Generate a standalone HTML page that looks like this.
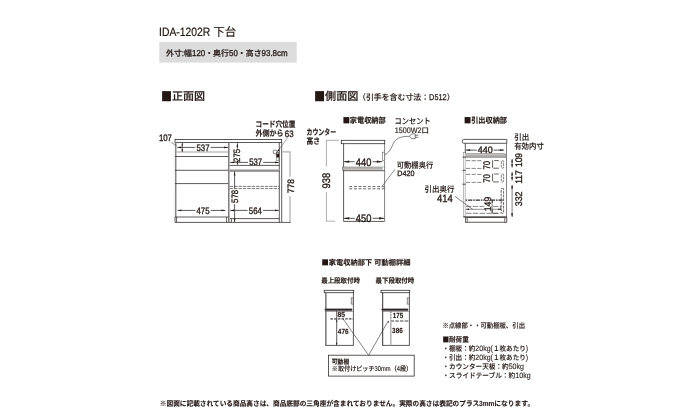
<!DOCTYPE html>
<html lang="ja">
<head>
<meta charset="utf-8">
<title>IDA-1202R 下台</title>
<style>
html,body{margin:0;padding:0;background:#fff;}
body{width:680px;height:420px;overflow:hidden;}
svg{display:block;font-family:"Liberation Sans","Noto Sans CJK JP",sans-serif;fill:#231815;text-rendering:geometricPrecision;will-change:transform;}
svg text{font-family:"Liberation Sans","Noto Sans CJK JP",sans-serif;}
svg .sq{font-family:"Noto Sans CJK JP",sans-serif;}
</style>
</head>
<body>
<svg width="680" height="420" viewBox="0 0 680 420">
<rect x="0" y="0" width="680" height="420" fill="#ffffff"/>
<text xml:space="preserve"><tspan x="159.10" y="35.5" font-size="12.10" textLength="54.10" lengthAdjust="spacingAndGlyphs" stroke="#231815" stroke-width="0.22">IDA-1202R </tspan><tspan x="213.20" y="35.5" font-size="11.80" textLength="23.00" lengthAdjust="spacingAndGlyphs" stroke="#231815" stroke-width="0.15">下台</tspan></text>
<rect x="159.25" y="42" width="137.5" height="20.6" fill="#dcdcdc"/>
<text font-weight="500"><tspan x="166.00" y="56.3" font-size="7.90" textLength="15.85" lengthAdjust="spacingAndGlyphs" stroke="#231815" stroke-width="0.2">外寸</tspan><tspan x="181.85" y="56.3" font-size="8.69" textLength="2.20" lengthAdjust="spacingAndGlyphs" stroke="#231815" stroke-width="0.3">:</tspan><tspan x="184.05" y="56.3" font-size="7.90" textLength="7.92" lengthAdjust="spacingAndGlyphs" stroke="#231815" stroke-width="0.2">幅</tspan><tspan x="191.98" y="56.3" font-size="8.69" textLength="13.24" lengthAdjust="spacingAndGlyphs" stroke="#231815" stroke-width="0.3">120</tspan><tspan x="205.21" y="56.3" font-size="7.90" textLength="23.77" lengthAdjust="spacingAndGlyphs" stroke="#231815" stroke-width="0.2">・奥行</tspan><tspan x="228.99" y="56.3" font-size="8.69" textLength="8.82" lengthAdjust="spacingAndGlyphs" stroke="#231815" stroke-width="0.3">50</tspan><tspan x="237.81" y="56.3" font-size="7.90" textLength="23.77" lengthAdjust="spacingAndGlyphs" stroke="#231815" stroke-width="0.2">・高さ</tspan><tspan x="261.59" y="56.3" font-size="8.69" textLength="26.01" lengthAdjust="spacingAndGlyphs" stroke="#231815" stroke-width="0.3">93.8cm</tspan></text>
<text font-weight="500"><tspan x="160.90" y="100.9" font-size="12.65" textLength="11.05" lengthAdjust="spacingAndGlyphs" class="sq" stroke="#231815" stroke-width="0.15">■</tspan><tspan x="171.95" y="100.4" font-size="11.10" textLength="33.15" lengthAdjust="spacingAndGlyphs" stroke="#231815" stroke-width="0.15">正面図</tspan></text>
<text font-weight="500"><tspan x="314.00" y="100.9" font-size="12.65" textLength="11.12" lengthAdjust="spacingAndGlyphs" class="sq" stroke="#231815" stroke-width="0.15">■</tspan><tspan x="325.12" y="100.4" font-size="11.10" textLength="33.38" lengthAdjust="spacingAndGlyphs" stroke="#231815" stroke-width="0.15">側面図</tspan></text>
<text font-weight="500"><tspan x="358.00" y="99.7" font-size="7.90" textLength="71.10" lengthAdjust="spacingAndGlyphs" stroke="#231815" stroke-width="0.12">（引手を含む寸法：</tspan><tspan x="429.10" y="99.7" font-size="8.53" textLength="17.54" lengthAdjust="spacingAndGlyphs" stroke="#231815" stroke-width="0.25">D512</tspan><tspan x="446.64" y="99.7" font-size="7.90" textLength="7.90" lengthAdjust="spacingAndGlyphs" stroke="#231815" stroke-width="0.12">）</tspan></text>
<rect x="175" y="139.5" width="106.7" height="3.0" fill="none" stroke="#332f2e" stroke-width="0.8"/>
<line x1="175.7" y1="142.5" x2="175.7" y2="217" stroke="#8a8786" stroke-width="1.6"/>
<line x1="175" y1="217" x2="175" y2="222.4" stroke="#332f2e" stroke-width="0.8"/>
<line x1="228.8" y1="142.5" x2="228.8" y2="222.4" stroke="#7d7a79" stroke-width="1.5"/>
<line x1="176.6" y1="152" x2="228.3" y2="152" stroke="#8a8685" stroke-width="0.8"/>
<line x1="175" y1="156.5" x2="228.3" y2="156.5" stroke="#332f2e" stroke-width="0.8"/>
<line x1="175" y1="170.3" x2="228.3" y2="170.3" stroke="#332f2e" stroke-width="0.8"/>
<line x1="175" y1="183.6" x2="228.3" y2="183.6" stroke="#332f2e" stroke-width="0.8"/>
<line x1="175" y1="217" x2="228.3" y2="217" stroke="#332f2e" stroke-width="0.8"/>
<line x1="175" y1="222.4" x2="281.7" y2="222.4" stroke="#332f2e" stroke-width="0.8"/>
<line x1="176.6" y1="217" x2="176.6" y2="222.4" stroke="#332f2e" stroke-width="0.8"/>
<line x1="226.6" y1="217" x2="226.6" y2="222.4" stroke="#332f2e" stroke-width="0.8"/>
<line x1="279.3" y1="142.5" x2="279.3" y2="222.4" stroke="#332f2e" stroke-width="0.8"/>
<line x1="281.7" y1="142.5" x2="281.7" y2="222.4" stroke="#332f2e" stroke-width="0.8"/>
<line x1="229.7" y1="165.4" x2="279.3" y2="165.4" stroke="#332f2e" stroke-width="0.8"/>
<rect x="229.7" y="169" width="49.6" height="2" fill="#c6c4c3"/>
<line x1="229.7" y1="171.1" x2="279.3" y2="171.1" stroke="#332f2e" stroke-width="0.8"/>
<line x1="229.7" y1="186.4" x2="279.3" y2="186.4" stroke="#332f2e" stroke-width="0.65" stroke-dasharray="3.4 1.0"/>
<line x1="229.7" y1="188.6" x2="279.3" y2="188.6" stroke="#332f2e" stroke-width="0.65" stroke-dasharray="3.4 1.0"/>
<line x1="229.7" y1="218.6" x2="279.3" y2="218.6" stroke="#332f2e" stroke-width="0.8"/>
<line x1="231.4" y1="218.6" x2="231.4" y2="222.4" stroke="#332f2e" stroke-width="0.8"/>
<line x1="177.3" y1="147.4" x2="195.3" y2="147.4" stroke="#332f2e" stroke-width="0.8"/>
<line x1="210.7" y1="147.4" x2="228" y2="147.4" stroke="#332f2e" stroke-width="0.8"/>
<polygon points="177.3,147.4 181.10000000000002,146.6 181.10000000000002,148.20000000000002" fill="#231815"/>
<polygon points="228,147.4 224.2,146.6 224.2,148.20000000000002" fill="#231815"/>
<text x="196.50" y="151.1" font-size="9.30" textLength="13.00" lengthAdjust="spacingAndGlyphs" stroke="#231815" stroke-width="0.34">537</text>
<line x1="182.3" y1="143" x2="182.3" y2="152" stroke="#231815" stroke-width="0.6"/>
<polygon points="182.3,142.8 181.45000000000002,145.60000000000002 183.15,145.60000000000002" fill="#231815"/>
<polygon points="182.3,152 181.45000000000002,149.2 183.15,149.2" fill="#231815"/>
<text x="158.90" y="141.4" font-size="9.30" textLength="13.00" lengthAdjust="spacingAndGlyphs" stroke="#231815" stroke-width="0.34">107</text>
<line x1="171.2" y1="142.6" x2="176.6" y2="145.4" stroke="#332f2e" stroke-width="0.5"/>
<line x1="177.6" y1="210.4" x2="195.3" y2="210.4" stroke="#332f2e" stroke-width="0.8"/>
<line x1="210.7" y1="210.4" x2="225.4" y2="210.4" stroke="#332f2e" stroke-width="0.8"/>
<polygon points="177.6,210.4 181.4,209.6 181.4,211.20000000000002" fill="#231815"/>
<polygon points="225.4,210.4 221.6,209.6 221.6,211.20000000000002" fill="#231815"/>
<text x="196.50" y="213.74800000000002" font-size="9.30" textLength="13.00" lengthAdjust="spacingAndGlyphs" stroke="#231815" stroke-width="0.34">475</text>
<line x1="237.4" y1="143.2" x2="237.4" y2="148.8" stroke="#332f2e" stroke-width="0.8"/>
<line x1="237.4" y1="162.0" x2="237.4" y2="164.8" stroke="#332f2e" stroke-width="0.8"/>
<polygon points="237.4,143.2 236.6,147.0 238.20000000000002,147.0" fill="#231815"/>
<polygon points="237.4,164.8 236.6,161.0 238.20000000000002,161.0" fill="#231815"/>
<g transform="rotate(-90 240.048 155.4)"><text x="233.55" y="155.4" font-size="9.30" textLength="13.00" lengthAdjust="spacingAndGlyphs" stroke="#231815" stroke-width="0.34">275</text></g>
<line x1="230.2" y1="162.4" x2="248.0" y2="162.4" stroke="#332f2e" stroke-width="0.8"/>
<line x1="263.4" y1="162.4" x2="278.8" y2="162.4" stroke="#332f2e" stroke-width="0.8"/>
<polygon points="230.2,162.4 234.0,161.6 234.0,163.20000000000002" fill="#231815"/>
<polygon points="278.8,162.4 275.0,161.6 275.0,163.20000000000002" fill="#231815"/>
<text x="249.20" y="165.35" font-size="9.30" textLength="13.00" lengthAdjust="spacingAndGlyphs" stroke="#231815" stroke-width="0.34">537</text>
<line x1="234.6" y1="171.6" x2="234.6" y2="188.70000000000002" stroke="#332f2e" stroke-width="0.8"/>
<line x1="234.6" y1="204.1" x2="234.6" y2="222.2" stroke="#332f2e" stroke-width="0.8"/>
<polygon points="234.6,171.6 233.79999999999998,175.4 235.4,175.4" fill="#231815"/>
<polygon points="234.6,222.2 233.79999999999998,218.39999999999998 235.4,218.39999999999998" fill="#231815"/>
<g transform="rotate(-90 237.948 196.4)"><text x="231.45" y="196.4" font-size="9.30" textLength="13.00" lengthAdjust="spacingAndGlyphs" stroke="#231815" stroke-width="0.34">578</text></g>
<line x1="230.2" y1="210.4" x2="247.60000000000002" y2="210.4" stroke="#332f2e" stroke-width="0.8"/>
<line x1="263.0" y1="210.4" x2="278.8" y2="210.4" stroke="#332f2e" stroke-width="0.8"/>
<polygon points="230.2,210.4 234.0,209.6 234.0,211.20000000000002" fill="#231815"/>
<polygon points="278.8,210.4 275.0,209.6 275.0,211.20000000000002" fill="#231815"/>
<text x="248.80" y="213.74800000000002" font-size="9.30" textLength="13.00" lengthAdjust="spacingAndGlyphs" stroke="#231815" stroke-width="0.34">564</text>
<path d="M281.9,151.9 H290 V222.4" fill="none" stroke="#b4b1b0" stroke-width="1.3"/>
<line x1="281.7" y1="222.4" x2="290.6" y2="222.4" stroke="#332f2e" stroke-width="0.8"/>
<rect x="286" y="176.6" width="8" height="19.6" fill="#fff"/>
<g transform="rotate(-90 293.548 186.1)"><text x="286.45" y="186.1" font-size="9.30" textLength="14.20" lengthAdjust="spacingAndGlyphs" stroke="#231815" stroke-width="0.34">778</text></g>
<circle cx="275.1" cy="152" r="2" fill="#fff" stroke="#332f2e" stroke-width="0.6"/>
<rect x="276.5" y="152.4" width="2.4" height="8.1" fill="#fff" stroke="#332f2e" stroke-width="0.45"/>
<rect x="276.4" y="153.6" width="2.6" height="3.9" fill="#231815"/>
<line x1="287.3" y1="138.2" x2="277.9" y2="150.9" stroke="#332f2e" stroke-width="0.45"/>
<polygon points="277.2,151.9 278.1,149.3 279.6,150.4" fill="#231815"/>
<text x="255.50" y="126.9" font-size="8.00" textLength="39.80" lengthAdjust="spacingAndGlyphs" stroke="#231815" stroke-width="0.15" font-weight="700">コード穴位置</text>
<text x="255.50" y="135.9" font-size="8.00" textLength="28.00" lengthAdjust="spacingAndGlyphs" stroke="#231815" stroke-width="0.15" font-weight="700">外側から</text>
<text x="284.80" y="136.5" font-size="9.30" textLength="8.80" lengthAdjust="spacingAndGlyphs" stroke="#231815" stroke-width="0.34">63</text>
<text font-weight="700"><tspan x="342.70" y="122.8" font-size="7.60" textLength="7.17" lengthAdjust="spacingAndGlyphs" class="sq" stroke="#231815" stroke-width="0.15">■</tspan><tspan x="349.87" y="122.8" font-size="7.60" textLength="35.83" lengthAdjust="spacingAndGlyphs" stroke="#231815" stroke-width="0.15">家電収納部</tspan></text>
<text x="306.50" y="134.5" font-size="8.20" textLength="29.60" lengthAdjust="spacingAndGlyphs" stroke="#231815" stroke-width="0.15" font-weight="700">カウンター</text>
<text x="306.50" y="144.1" font-size="8.00" textLength="13.40" lengthAdjust="spacingAndGlyphs" stroke="#231815" stroke-width="0.15" font-weight="700">高さ</text>
<rect x="341.3" y="140.3" width="43.4" height="3.4" fill="none" stroke="#332f2e" stroke-width="0.8"/>
<line x1="343.6" y1="143.7" x2="343.6" y2="221.4" stroke="#332f2e" stroke-width="0.8"/>
<line x1="384.6" y1="143.7" x2="384.6" y2="221.4" stroke="#332f2e" stroke-width="0.6"/>
<line x1="343.6" y1="221.4" x2="384.6" y2="221.4" stroke="#332f2e" stroke-width="0.8"/>
<rect x="382.3" y="152.1" width="2.3" height="8.6" fill="#fff" stroke="#332f2e" stroke-width="0.45"/>
<rect x="342.4" y="167.1" width="40.2" height="2.7" fill="#b4b2b1"/>
<line x1="342.4" y1="166.9" x2="342.4" y2="169.9" stroke="#332f2e" stroke-width="0.45"/>
<line x1="342.4" y1="166.9" x2="384.6" y2="166.9" stroke="#332f2e" stroke-width="0.3"/>
<line x1="342.6" y1="170.7" x2="384.6" y2="170.7" stroke="#332f2e" stroke-width="0.8"/>
<line x1="349.3" y1="186.6" x2="384.6" y2="186.6" stroke="#332f2e" stroke-width="0.75" stroke-dasharray="2.9 1.75"/>
<line x1="349.3" y1="188.8" x2="384.6" y2="188.8" stroke="#332f2e" stroke-width="0.75" stroke-dasharray="2.9 1.75"/>
<line x1="343.8" y1="161.7" x2="354.6" y2="161.7" stroke="#332f2e" stroke-width="0.8"/>
<line x1="372.6" y1="161.7" x2="382.2" y2="161.7" stroke="#332f2e" stroke-width="0.8"/>
<polygon points="343.8,161.7 349.2,160.54999999999998 349.2,162.85" fill="#231815"/>
<polygon points="382.2,161.7 376.8,160.54999999999998 376.8,162.85" fill="#231815"/>
<text x="355.80" y="165.79999999999998" font-size="11.00" textLength="15.60" lengthAdjust="spacingAndGlyphs" stroke="#231815" stroke-width="0.34">440</text>
<line x1="343.8" y1="218.3" x2="354.6" y2="218.3" stroke="#332f2e" stroke-width="0.8"/>
<line x1="372.6" y1="218.3" x2="384.4" y2="218.3" stroke="#332f2e" stroke-width="0.8"/>
<polygon points="343.8,218.3 349.2,217.15 349.2,219.45000000000002" fill="#231815"/>
<polygon points="384.4,218.3 379.0,217.15 379.0,219.45000000000002" fill="#231815"/>
<text x="355.80" y="221.8" font-size="11.00" textLength="15.60" lengthAdjust="spacingAndGlyphs" stroke="#231815" stroke-width="0.34">450</text>
<line x1="326.1" y1="140.3" x2="339.3" y2="140.3" stroke="#8f8c8b" stroke-width="0.7"/>
<line x1="326.1" y1="221.2" x2="335.2" y2="221.2" stroke="#8f8c8b" stroke-width="0.7"/>
<g transform="rotate(-90 330.35999999999996 180.6)"><text x="322.56" y="180.6" font-size="11.00" textLength="15.60" lengthAdjust="spacingAndGlyphs" stroke="#231815" stroke-width="0.34">938</text></g>
<line x1="326.4" y1="140.3" x2="326.4" y2="166.6" stroke="#8f8c8b" stroke-width="0.7"/>
<line x1="326.4" y1="192" x2="326.4" y2="221.2" stroke="#8f8c8b" stroke-width="0.7"/>
<path d="M384.8,154.6 C388.4,153.6 390.6,149.4 392.8,144.6 C395.6,138.6 399.4,136.3 409.6,136.3" fill="none" stroke="#332f2e" stroke-width="0.6"/>
<path d="M409.6,136.3 C410.2,134.6 411.5,133.9 413,133.9 H415.2 V138.7 H413 C411.5,138.7 410.2,138 409.6,136.3 z" fill="#fff" stroke="#332f2e" stroke-width="0.6"/>
<line x1="415.2" y1="135.3" x2="418.3" y2="135.3" stroke="#332f2e" stroke-width="0.65"/>
<line x1="415.2" y1="137.3" x2="418.3" y2="137.3" stroke="#332f2e" stroke-width="0.65"/>
<text x="394.60" y="124.3" font-size="8.10" textLength="36.00" lengthAdjust="spacingAndGlyphs" stroke="#231815" stroke-width="0.12" font-weight="500">コンセント</text>
<text font-weight="500"><tspan x="394.80" y="132.5" font-size="7.99" textLength="26.80" lengthAdjust="spacingAndGlyphs" stroke="#231815" stroke-width="0.16">1500W2</tspan><tspan x="421.60" y="132.5" font-size="7.40" textLength="7.40" lengthAdjust="spacingAndGlyphs" stroke="#231815" stroke-width="0.12">口</tspan></text>
<text x="396.80" y="168.4" font-size="8.00" textLength="36.40" lengthAdjust="spacingAndGlyphs" stroke="#231815" stroke-width="0.12" font-weight="500">可動棚奥行</text>
<text x="397.20" y="176.0" font-size="7.80" textLength="17.20" lengthAdjust="spacingAndGlyphs" stroke="#231815" stroke-width="0.3">D420</text>
<line x1="395" y1="169.3" x2="382" y2="186.4" stroke="#332f2e" stroke-width="0.55"/>
<text x="424.60" y="192.3" font-size="8.00" textLength="29.80" lengthAdjust="spacingAndGlyphs" stroke="#231815" stroke-width="0.12" font-weight="500">引出奥行</text>
<text x="437.00" y="202.4" font-size="10.70" textLength="15.80" lengthAdjust="spacingAndGlyphs" stroke="#231815" stroke-width="0.34">414</text>
<line x1="455" y1="196.4" x2="472.6" y2="209.3" stroke="#332f2e" stroke-width="0.6"/>
<text font-weight="700"><tspan x="464.00" y="122.8" font-size="7.60" textLength="7.17" lengthAdjust="spacingAndGlyphs" class="sq" stroke="#231815" stroke-width="0.15">■</tspan><tspan x="471.17" y="122.8" font-size="7.60" textLength="35.83" lengthAdjust="spacingAndGlyphs" stroke="#231815" stroke-width="0.15">引出収納部</tspan></text>
<path d="M463.8,139.4 H506.8 V143.3 H463.8 a1.5,1.95 0 0 1 0,-3.9 z" fill="none" stroke="#332f2e" stroke-width="0.8"/>
<line x1="465.3" y1="143.3" x2="465.3" y2="153" stroke="#332f2e" stroke-width="0.8"/>
<line x1="506.5" y1="143.3" x2="506.5" y2="217.4" stroke="#332f2e" stroke-width="0.6"/>
<rect x="463.3" y="152.4" width="1.8" height="64.6" fill="none" stroke="#5a5655" stroke-width="0.4"/>
<rect x="465.4" y="154.2" width="40.6" height="2.6" fill="#b3b1b0"/>
<path d="M465.4,153.5 H504 q1.6,0.2 1.8,1.4" fill="none" stroke="#332f2e" stroke-width="0.4"/>
<line x1="465.3" y1="157.2" x2="506.5" y2="157.2" stroke="#332f2e" stroke-width="0.6"/>
<line x1="463.6" y1="216.9" x2="506.7" y2="216.9" stroke="#332f2e" stroke-width="1.0"/>
<rect x="465.4" y="217.4" width="41.4" height="4.8" fill="none" stroke="#332f2e" stroke-width="0.8"/>
<rect x="465.4" y="217.6" width="2.4" height="4.6" fill="#c9c6c5" stroke="#332f2e" stroke-width="0.4"/>
<rect x="504.4" y="217.6" width="2.4" height="4.6" fill="#c9c6c5" stroke="#332f2e" stroke-width="0.4"/>
<line x1="465.7" y1="150.1" x2="476.8" y2="150.1" stroke="#332f2e" stroke-width="0.8"/>
<line x1="493.59999999999997" y1="150.1" x2="504.2" y2="150.1" stroke="#332f2e" stroke-width="0.8"/>
<polygon points="465.7,150.1 470.09999999999997,149.2 470.09999999999997,151.0" fill="#231815"/>
<polygon points="504.2,150.1 499.8,149.2 499.8,151.0" fill="#231815"/>
<text x="477.70" y="152.79999999999998" font-size="9.40" textLength="15.00" lengthAdjust="spacingAndGlyphs" stroke="#231815" stroke-width="0.34">440</text>
<line x1="466" y1="160.7" x2="482.4" y2="160.7" stroke="#332f2e" stroke-width="0.6" stroke-dasharray="4.2 1.4"/>
<line x1="466" y1="168.4" x2="482.4" y2="168.4" stroke="#332f2e" stroke-width="0.6" stroke-dasharray="4.2 1.4"/>
<line x1="466" y1="174.4" x2="482.4" y2="174.4" stroke="#332f2e" stroke-width="0.6" stroke-dasharray="4.2 1.4"/>
<line x1="466" y1="182.4" x2="482.4" y2="182.4" stroke="#332f2e" stroke-width="0.6" stroke-dasharray="4.2 1.4"/>
<path d="M498.8,160.6 H492.6 V168.2 H498.8" fill="none" stroke="#231815" stroke-width="0.7" stroke-dasharray="4.6 1.2 7.6 1.2 4.6 0"/>
<rect x="501.3" y="160.6" width="2.3" height="7.599999999999994" fill="none" stroke="#332f2e" stroke-width="0.6" stroke-dasharray="2.8 0.8" rx="0.8"/>
<path d="M498.8,174.0 H492.6 V181.9 H498.8" fill="none" stroke="#231815" stroke-width="0.7" stroke-dasharray="4.6 1.2 7.6 1.2 4.6 0"/>
<rect x="501.3" y="174.0" width="2.3" height="7.900000000000006" fill="none" stroke="#332f2e" stroke-width="0.6" stroke-dasharray="2.8 0.8" rx="0.8"/>
<g transform="rotate(-90 489.856 165.3)"><text x="485.56" y="165.3" font-size="9.60" textLength="8.60" lengthAdjust="spacingAndGlyphs" stroke="#231815" stroke-width="0.34">70</text></g>
<g transform="rotate(-90 489.856 178.4)"><text x="485.56" y="178.4" font-size="9.60" textLength="8.60" lengthAdjust="spacingAndGlyphs" stroke="#231815" stroke-width="0.34">70</text></g>
<rect x="501.2" y="188.4" width="2.4" height="24.9" fill="none" stroke="#332f2e" stroke-width="0.75" stroke-dasharray="2.8 0.9" rx="0.8"/>
<line x1="465.6" y1="200" x2="502.8" y2="200" stroke="#2b2726" stroke-width="1.25" stroke-dasharray="1.6 0.9 4.2 0.9"/>
<line x1="466" y1="206.4" x2="500.6" y2="206.4" stroke="#332f2e" stroke-width="0.6" stroke-dasharray="5.4 1.4"/>
<line x1="466" y1="213.3" x2="500.6" y2="213.3" stroke="#332f2e" stroke-width="0.6" stroke-dasharray="5.4 1.4"/>
<line x1="466" y1="209.3" x2="501.2" y2="209.3" stroke="#332f2e" stroke-width="0.55"/>
<polygon points="465.6,209.3 469.0,208.5 469.0,210.10000000000002" fill="#231815"/>
<polygon points="501.2,209.3 498.2,208.60000000000002 498.2,210.0" fill="#231815"/>
<line x1="492.1" y1="199.8" x2="492.1" y2="213.2" stroke="#231815" stroke-width="0.6"/>
<line x1="492.1" y1="213.3" x2="498" y2="213.3" stroke="#332f2e" stroke-width="0.6"/>
<line x1="500.6" y1="206.4" x2="500.6" y2="209.3" stroke="#332f2e" stroke-width="0.6"/>
<polygon points="492.1,199.8 491.3,202.4 492.90000000000003,202.4" fill="#231815"/>
<polygon points="492.1,213.2 491.3,210.6 492.90000000000003,210.6" fill="#231815"/>
<rect x="484.3" y="196.7" width="7.0" height="14.8" fill="#fff"/>
<g transform="rotate(-90 491.356 204)"><text x="484.16" y="204" font-size="9.60" textLength="14.40" lengthAdjust="spacingAndGlyphs" stroke="#231815" stroke-width="0.34">149</text></g>
<line x1="462.6" y1="157.1" x2="465.6" y2="157.1" stroke="#231815" stroke-width="0.8"/>
<line x1="462.6" y1="170.3" x2="465.6" y2="170.3" stroke="#231815" stroke-width="0.8"/>
<line x1="462.6" y1="184.2" x2="465.6" y2="184.2" stroke="#231815" stroke-width="0.8"/>
<line x1="512.1" y1="159" x2="512.1" y2="167.6" stroke="#231815" stroke-width="0.55"/>
<polygon points="512.1,159 511.15000000000003,162.6 513.0500000000001,162.6" fill="#231815"/>
<polygon points="512.1,167.6 511.15000000000003,164.0 513.0500000000001,164.0" fill="#231815"/>
<line x1="512.1" y1="171.9" x2="512.1" y2="180.5" stroke="#231815" stroke-width="0.55"/>
<polygon points="512.1,171.9 511.15000000000003,175.5 513.0500000000001,175.5" fill="#231815"/>
<polygon points="512.1,180.5 511.15000000000003,176.9 513.0500000000001,176.9" fill="#231815"/>
<line x1="512.1" y1="184.8" x2="512.1" y2="216.9" stroke="#231815" stroke-width="0.55"/>
<polygon points="512.1,184.8 511.15000000000003,188.4 513.0500000000001,188.4" fill="#231815"/>
<polygon points="512.1,216.9 511.15000000000003,213.3 513.0500000000001,213.3" fill="#231815"/>
<g transform="rotate(-90 522.256 160.0)"><text x="515.16" y="160.0" font-size="9.60" textLength="14.20" lengthAdjust="spacingAndGlyphs" stroke="#231815" stroke-width="0.34">109</text></g>
<g transform="rotate(-90 522.256 177.1)"><text x="515.56" y="177.1" font-size="9.60" textLength="13.40" lengthAdjust="spacingAndGlyphs" stroke="#231815" stroke-width="0.34">117</text></g>
<g transform="rotate(-90 522.256 198.9)"><text x="514.86" y="198.9" font-size="9.60" textLength="14.80" lengthAdjust="spacingAndGlyphs" stroke="#231815" stroke-width="0.34">332</text></g>
<text x="514.20" y="140.1" font-size="8.00" textLength="14.90" lengthAdjust="spacingAndGlyphs" stroke="#231815" stroke-width="0.12" font-weight="500">引出</text>
<text x="514.20" y="148.6" font-size="8.00" textLength="29.60" lengthAdjust="spacingAndGlyphs" stroke="#231815" stroke-width="0.12" font-weight="500">有効内寸</text>
<text font-weight="700" xml:space="preserve"><tspan x="321.60" y="265.4" font-size="7.30" textLength="7.23" lengthAdjust="spacingAndGlyphs" class="sq" stroke="#231815" stroke-width="0.12">■</tspan><tspan x="328.83" y="265.4" font-size="7.30" textLength="43.41" lengthAdjust="spacingAndGlyphs" stroke="#231815" stroke-width="0.12">家電収納部下</tspan><tspan x="372.24" y="265.4" font-size="8.18" textLength="1.98" lengthAdjust="spacingAndGlyphs" stroke="#231815" stroke-width="0.12"> </tspan><tspan x="374.23" y="265.4" font-size="7.30" textLength="36.17" lengthAdjust="spacingAndGlyphs" stroke="#231815" stroke-width="0.12">可動棚詳細</tspan></text>
<text x="321.20" y="282.7" font-size="7.00" textLength="38.80" lengthAdjust="spacingAndGlyphs" stroke="#231815" stroke-width="0.12" font-weight="700">最上段取付時</text>
<text x="375.50" y="282.7" font-size="7.00" textLength="38.80" lengthAdjust="spacingAndGlyphs" stroke="#231815" stroke-width="0.12" font-weight="700">最下段取付時</text>
<rect x="324.2" y="290.3" width="29.5" height="2.4" fill="none" stroke="#332f2e" stroke-width="0.8"/>
<line x1="325.9" y1="292.7" x2="325.9" y2="345.4" stroke="#332f2e" stroke-width="1.0"/>
<line x1="353.4" y1="292.7" x2="353.4" y2="345.4" stroke="#332f2e" stroke-width="0.8"/>
<line x1="325.4" y1="345.4" x2="353.4" y2="345.4" stroke="#332f2e" stroke-width="0.8"/>
<rect x="351.09999999999997" y="297.9" width="2.2" height="6.2" fill="#d0cecd" stroke="#332f2e" stroke-width="0.45"/>
<path d="M324.4,309.9 L325.6,308.7 H352.09999999999997 V311.2 H325.6 z" fill="#6a6665"/>
<path d="M324.4,309.8 L325.6,308.7 H352.09999999999997 V310.1 H325.0 z" fill="#2b2625"/>
<line x1="325.4" y1="311.4" x2="353.4" y2="311.4" stroke="#332f2e" stroke-width="0.35"/>
<rect x="381.0" y="290.3" width="28.700000000000003" height="2.4" fill="none" stroke="#332f2e" stroke-width="0.8"/>
<line x1="382.7" y1="292.7" x2="382.7" y2="345.4" stroke="#332f2e" stroke-width="1.0"/>
<line x1="409.40000000000003" y1="292.7" x2="409.40000000000003" y2="345.4" stroke="#332f2e" stroke-width="0.8"/>
<line x1="382.2" y1="345.4" x2="409.40000000000003" y2="345.4" stroke="#332f2e" stroke-width="0.8"/>
<rect x="407.1" y="297.9" width="2.2" height="6.2" fill="#d0cecd" stroke="#332f2e" stroke-width="0.45"/>
<path d="M381.2,309.9 L382.40000000000003,308.7 H408.1 V311.2 H382.40000000000003 z" fill="#6a6665"/>
<path d="M381.2,309.8 L382.40000000000003,308.7 H408.1 V310.1 H381.8 z" fill="#2b2625"/>
<line x1="382.2" y1="311.4" x2="409.40000000000003" y2="311.4" stroke="#332f2e" stroke-width="0.35"/>
<line x1="330.4" y1="318.9" x2="353.3" y2="318.9" stroke="#4a4645" stroke-width="1.1" stroke-dasharray="2.6 1.1"/>
<line x1="336.7" y1="311" x2="336.7" y2="345.2" stroke="#332f2e" stroke-width="0.8"/>
<polygon points="336.7,319.4 336.0,321.79999999999995 337.4,321.79999999999995" fill="#231815"/>
<polygon points="336.7,345.2 336.0,342.8 337.4,342.8" fill="#231815"/>
<text x="337.40" y="317.3" font-size="7.40" textLength="7.60" lengthAdjust="spacingAndGlyphs" stroke="#231815" stroke-width="0.15" font-weight="700">85</text>
<text x="337.80" y="334.0" font-size="7.40" textLength="10.80" lengthAdjust="spacingAndGlyphs" stroke="#231815" stroke-width="0.15" font-weight="700">476</text>
<line x1="390.6" y1="321" x2="409.3" y2="321" stroke="#4a4645" stroke-width="1.2" stroke-dasharray="3.6 1.1"/>
<line x1="390.8" y1="311.6" x2="390.8" y2="320.4" stroke="#77747a" stroke-width="1.3" stroke-dasharray="1.6 1"/>
<line x1="390.8" y1="321.6" x2="390.8" y2="345.2" stroke="#b5b3b2" stroke-width="1.5"/>
<text x="392.80" y="318.0" font-size="7.40" textLength="10.40" lengthAdjust="spacingAndGlyphs" stroke="#231815" stroke-width="0.15" font-weight="700">175</text>
<text x="392.10" y="333.2" font-size="7.40" textLength="10.70" lengthAdjust="spacingAndGlyphs" stroke="#231815" stroke-width="0.15" font-weight="700">386</text>
<line x1="342.9" y1="318.6" x2="368.6" y2="355.3" stroke="#332f2e" stroke-width="0.6"/>
<line x1="388.2" y1="321" x2="368.6" y2="355.3" stroke="#332f2e" stroke-width="0.6"/>
<polygon points="388.4,320.4 387.79999999999995,322.59999999999997 389.0,322.59999999999997" fill="#231815"/>
<rect x="328.5" y="355.2" width="85.7" height="20.9" fill="none" stroke="#332f2e" stroke-width="0.8"/>
<text x="331.80" y="364.4" font-size="6.60" textLength="17.40" lengthAdjust="spacingAndGlyphs" stroke="#231815" stroke-width="0.1" font-weight="700">可動棚</text>
<text font-weight="500"><tspan x="331.80" y="370.9" font-size="6.70" textLength="42.79" lengthAdjust="spacingAndGlyphs" stroke="#231815" stroke-width="0.12">※取付けピッチ</tspan><tspan x="374.59" y="370.9" font-size="7.04" textLength="16.05" lengthAdjust="spacingAndGlyphs" stroke="#231815" stroke-width="0.12">30mm</tspan><tspan x="390.65" y="370.9" font-size="6.70" textLength="6.11" lengthAdjust="spacingAndGlyphs" stroke="#231815" stroke-width="0.12">（</tspan><tspan x="396.76" y="370.9" font-size="7.04" textLength="3.21" lengthAdjust="spacingAndGlyphs" stroke="#231815" stroke-width="0.12">4</tspan><tspan x="399.97" y="370.9" font-size="6.70" textLength="12.23" lengthAdjust="spacingAndGlyphs" stroke="#231815" stroke-width="0.12">段）</tspan></text>
<text x="442.40" y="327.9" font-size="7.00" textLength="82.60" lengthAdjust="spacingAndGlyphs" stroke="#231815" stroke-width="0.1" font-weight="500">※点線部・・可動棚板、引出</text>
<text font-weight="700"><tspan x="442.40" y="341.8" font-size="7.10" textLength="6.60" lengthAdjust="spacingAndGlyphs" class="sq" stroke="#231815" stroke-width="0.1">■</tspan><tspan x="449.00" y="341.8" font-size="7.10" textLength="19.80" lengthAdjust="spacingAndGlyphs" stroke="#231815" stroke-width="0.1">耐荷重</tspan></text>
<text font-weight="500"><tspan x="442.40" y="351.1" font-size="7.00" textLength="32.96" lengthAdjust="spacingAndGlyphs" stroke="#231815" stroke-width="0.1">・棚板：約</tspan><tspan x="475.36" y="351.1" font-size="7.84" textLength="17.54" lengthAdjust="spacingAndGlyphs" stroke="#231815" stroke-width="0.1">20kg(</tspan><tspan x="492.90" y="351.1" font-size="7.00" textLength="32.96" lengthAdjust="spacingAndGlyphs" stroke="#231815" stroke-width="0.1">１枚あたり</tspan><tspan x="525.86" y="351.1" font-size="7.84" textLength="2.34" lengthAdjust="spacingAndGlyphs" stroke="#231815" stroke-width="0.1">)</tspan></text>
<text font-weight="500"><tspan x="442.40" y="360.1" font-size="7.00" textLength="32.96" lengthAdjust="spacingAndGlyphs" stroke="#231815" stroke-width="0.1">・引出：約</tspan><tspan x="475.36" y="360.1" font-size="7.84" textLength="17.54" lengthAdjust="spacingAndGlyphs" stroke="#231815" stroke-width="0.1">20kg(</tspan><tspan x="492.90" y="360.1" font-size="7.00" textLength="32.96" lengthAdjust="spacingAndGlyphs" stroke="#231815" stroke-width="0.1">１枚あたり</tspan><tspan x="525.86" y="360.1" font-size="7.84" textLength="2.34" lengthAdjust="spacingAndGlyphs" stroke="#231815" stroke-width="0.1">)</tspan></text>
<text font-weight="500"><tspan x="442.40" y="369.1" font-size="7.00" textLength="66.30" lengthAdjust="spacingAndGlyphs" stroke="#231815" stroke-width="0.1">・カウンター天板：約</tspan><tspan x="508.70" y="369.1" font-size="7.84" textLength="15.30" lengthAdjust="spacingAndGlyphs" stroke="#231815" stroke-width="0.1">50kg</tspan></text>
<text font-weight="500"><tspan x="442.40" y="378.1" font-size="7.00" textLength="72.91" lengthAdjust="spacingAndGlyphs" stroke="#231815" stroke-width="0.1">・スライドテーブル：約</tspan><tspan x="515.31" y="378.1" font-size="7.84" textLength="15.29" lengthAdjust="spacingAndGlyphs" stroke="#231815" stroke-width="0.1">10kg</tspan></text>
<text font-weight="700"><tspan x="159.80" y="405.8" font-size="7.10" textLength="319.32" lengthAdjust="spacingAndGlyphs" stroke="#231815" stroke-width="0.1">※図面に記載されている商品高さは、商品底部の三角座が含まれておりません。実際の高さは表記のプラス</tspan><tspan x="479.12" y="405.8" font-size="7.46" textLength="15.17" lengthAdjust="spacingAndGlyphs" stroke="#231815" stroke-width="0.1">3mm</tspan><tspan x="494.29" y="405.8" font-size="7.10" textLength="39.91" lengthAdjust="spacingAndGlyphs" stroke="#231815" stroke-width="0.1">になります。</tspan></text>
</svg>
</body>
</html>
